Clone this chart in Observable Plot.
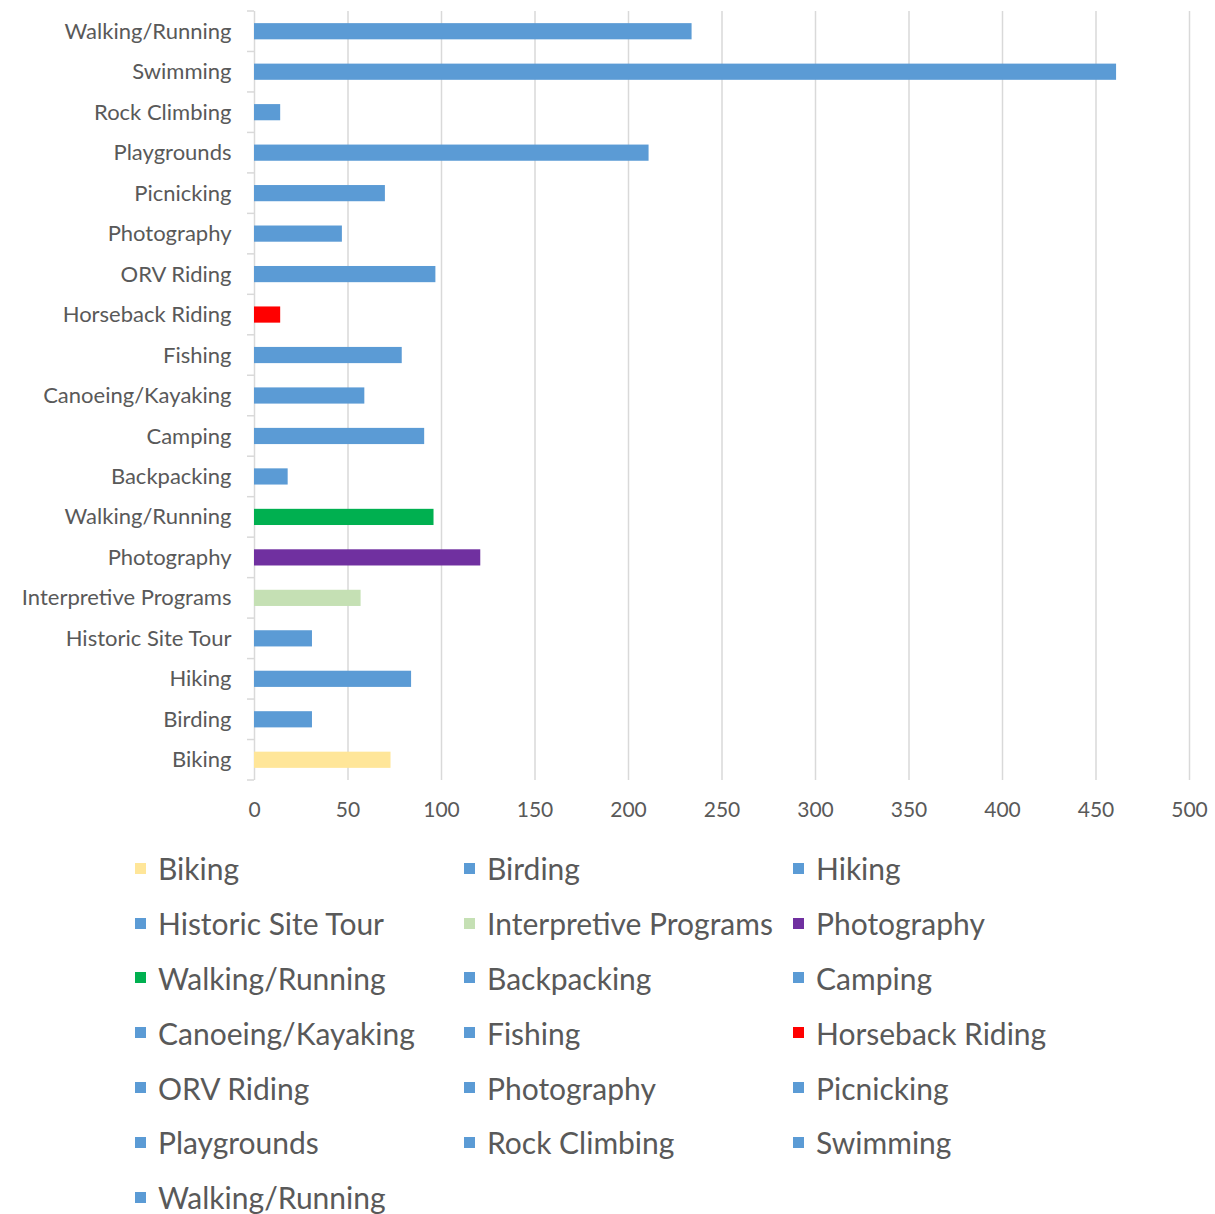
<!DOCTYPE html>
<html><head><meta charset="utf-8">
<script src="https://cdn.jsdelivr.net/npm/d3@7"></script>
<script src="https://cdn.jsdelivr.net/npm/@observablehq/plot@0.6"></script>
<style>
body{margin:0;background:#fff;font-family:Lato,"Open Sans",sans-serif;}
#legend{display:grid;grid-template-columns:329px 329px 329px;margin-left:135px;padding-top:3px;}
.item{display:flex;align-items:center;height:54.8px;font-size:30px;color:#595959;white-space:nowrap;}
.sw{width:11px;height:11px;margin-right:12px;flex:none;}
svg g[aria-label="x-axis tick label"] text{font-size:21px;}
</style></head><body><div id="chart"></div><div id="legend"></div>
<script>
// Categories listed bottom-to-top (same order as the legend)
const activities = ["Biking","Birding","Hiking","Historic Site Tour","Interpretive Programs","Photography","Walking/Running","Backpacking","Camping","Canoeing/Kayaking","Fishing","Horseback Riding","ORV Riding","Photography","Picnicking","Playgrounds","Rock Climbing","Swimming","Walking/Running"];
const visits = [73,31,84,31,57,121,96,18,91,59,79,14,97,47,70,211,14,461,234];
const colors = ["#ffe699","#5b9bd5","#5b9bd5","#5b9bd5","#c5e0b4","#7030a0","#00b050","#5b9bd5","#5b9bd5","#5b9bd5","#5b9bd5","#ff0000","#5b9bd5","#5b9bd5","#5b9bd5","#5b9bd5","#5b9bd5","#5b9bd5","#5b9bd5"];
const xTicks = [0,50,100,150,200,250,300,350,400,450,500];

const data = activities.map((a,i)=>({key:String(i), name:a, value:visits[i], color:colors[i]}));
const yDomain = data.map(d=>d.key).reverse();

function boundaryTicks(index, scales, values, dimensions) {
  const y = scales.y, x = scales.x;
  const step = y(yDomain[1]) - y(yDomain[0]);
  const pos = yDomain.map(k => y(k) - 0.3*step);
  pos.push(y(yDomain[yDomain.length-1]) + 0.7*step);
  const g = d3.create("svg:g").attr("stroke","#d9d9d9").attr("stroke-width",1.5);
  const x0 = x(0);
  for (const p of pos) g.append("line").attr("x1", x0-7).attr("x2", x0).attr("y1", p).attr("y2", p);
  return g.node();
}

const plot = Plot.plot({
  width: 1215, height: 838,
  marginLeft: 254, marginRight: 26, marginTop: 11, marginBottom: 58,
  style: {fontFamily: 'Lato, "Open Sans", sans-serif', fontSize: "22px", color: "#595959", background: "#fff", overflow: "visible"},
  x: {domain: [0,500], ticks: xTicks, tickSize: 0, tickPadding: 22, label: null},
  y: {domain: yDomain, paddingInner: 0.6, paddingOuter: 0.3, round: false, tickSize: 0, tickPadding: 23, tickFormat: k => activities[+k], label: null},
  color: {type: "identity"},
  marks: [
    Plot.ruleX(xTicks.slice(1), {stroke: "#d9d9d9", strokeWidth: 1.5}),
    Plot.ruleX([0], {stroke: "#d9d9d9", strokeWidth: 1.5}),
    boundaryTicks,
    Plot.barX(data, {x: "value", y: "key", fill: "color"})
  ]
});
document.getElementById("chart").appendChild(plot);

const legend = d3.select("#legend");
data.forEach(d => {
  const it = legend.append("div").attr("class","item");
  it.append("div").attr("class","sw").style("background", d.color);
  it.append("span").text(d.name);
});
</script></body></html>
